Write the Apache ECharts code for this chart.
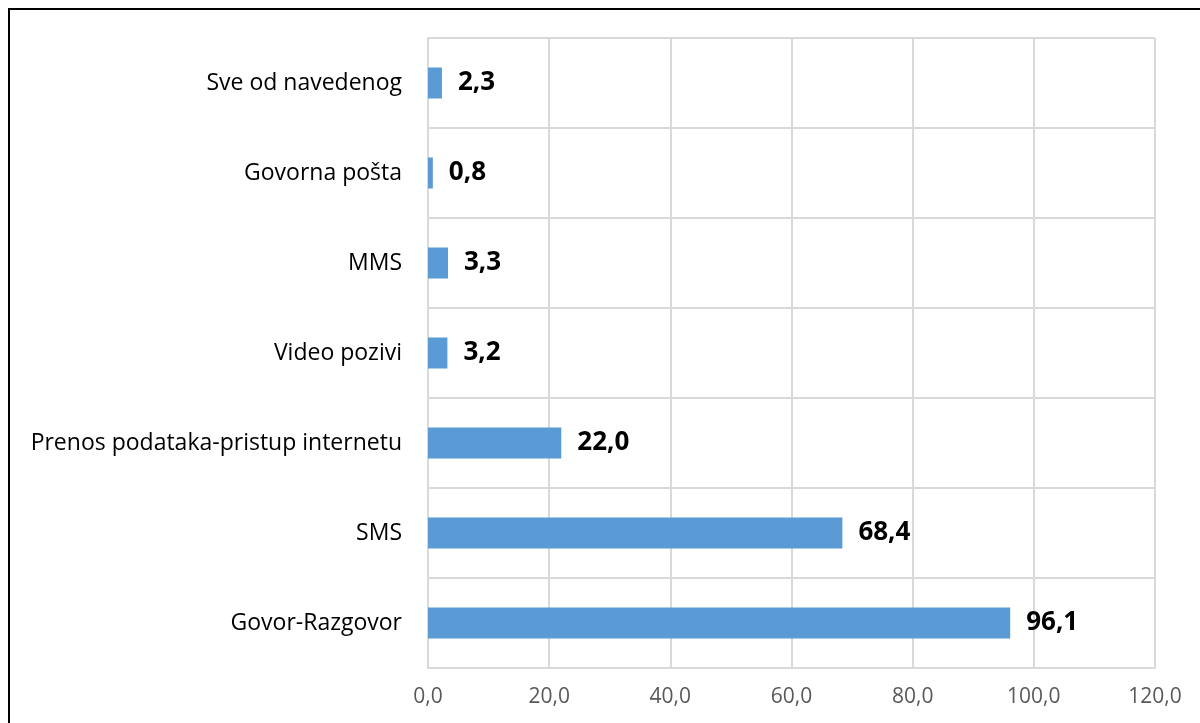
<!DOCTYPE html>
<html><head><meta charset="utf-8">
<script src="https://cdn.jsdelivr.net/npm/echarts@6/dist/echarts.min.js"></script>
<style>html,body{margin:0;padding:0;background:#fff}#c{width:1200px;height:723px}</style>
</head><body><div id="c"></div>
<script>
var categories = ['Govor-Razgovor','SMS','Prenos podataka-pristup internetu','Video pozivi','MMS','Govorna pošta','Sve od navedenog'];
var values = [96.1, 68.4, 22.0, 3.2, 3.3, 0.8, 2.3];
var xTicks = {min: 0, max: 120, interval: 20};

var chart = echarts.init(document.getElementById('c'));
var font = '"Open Sans", sans-serif';
chart.setOption({
  animation: false,
  backgroundColor: '#fff',
  graphic: [{type:'rect', shape:{x:9, y:9, width:1400, height:900}, style:{fill:'none', stroke:'#000', lineWidth:2}, z:100}],
  grid: {left: 428, right: 45, top: 38, bottom: 55, containLabel: false},
  xAxis: {
    type: 'value', min: xTicks.min, max: xTicks.max, interval: xTicks.interval,
    axisLine: {show: true, lineStyle: {color: '#d9d9d9', width: 2}},
    axisTick: {show: false},
    splitLine: {show: true, lineStyle: {color: '#d9d9d9', width: 2}},
    axisLabel: {color: '#595959', fontSize: 21, fontFamily: font, margin: 19,
      formatter: function(v){ return v.toFixed(1).replace('.', ','); }}
  },
  yAxis: {
    type: 'category', data: categories,
    axisLine: {show: true, lineStyle: {color: '#d9d9d9', width: 2}},
    axisTick: {show: false},
    splitLine: {show: true, lineStyle: {color: '#d9d9d9', width: 2}},
    axisLabel: {color: '#000', fontSize: 23, fontFamily: font, margin: 26}
  },
  series: [{
    type: 'bar', data: values, barWidth: 31,
    itemStyle: {color: '#5b9bd5'},
    label: {show: true, position: 'right', distance: 16, color: '#000', fontWeight: 'bold',
      fontSize: 26, fontFamily: font,
      formatter: function(p){ return p.value.toFixed(1).replace('.', ','); }}
  }]
});
</script></body></html>
